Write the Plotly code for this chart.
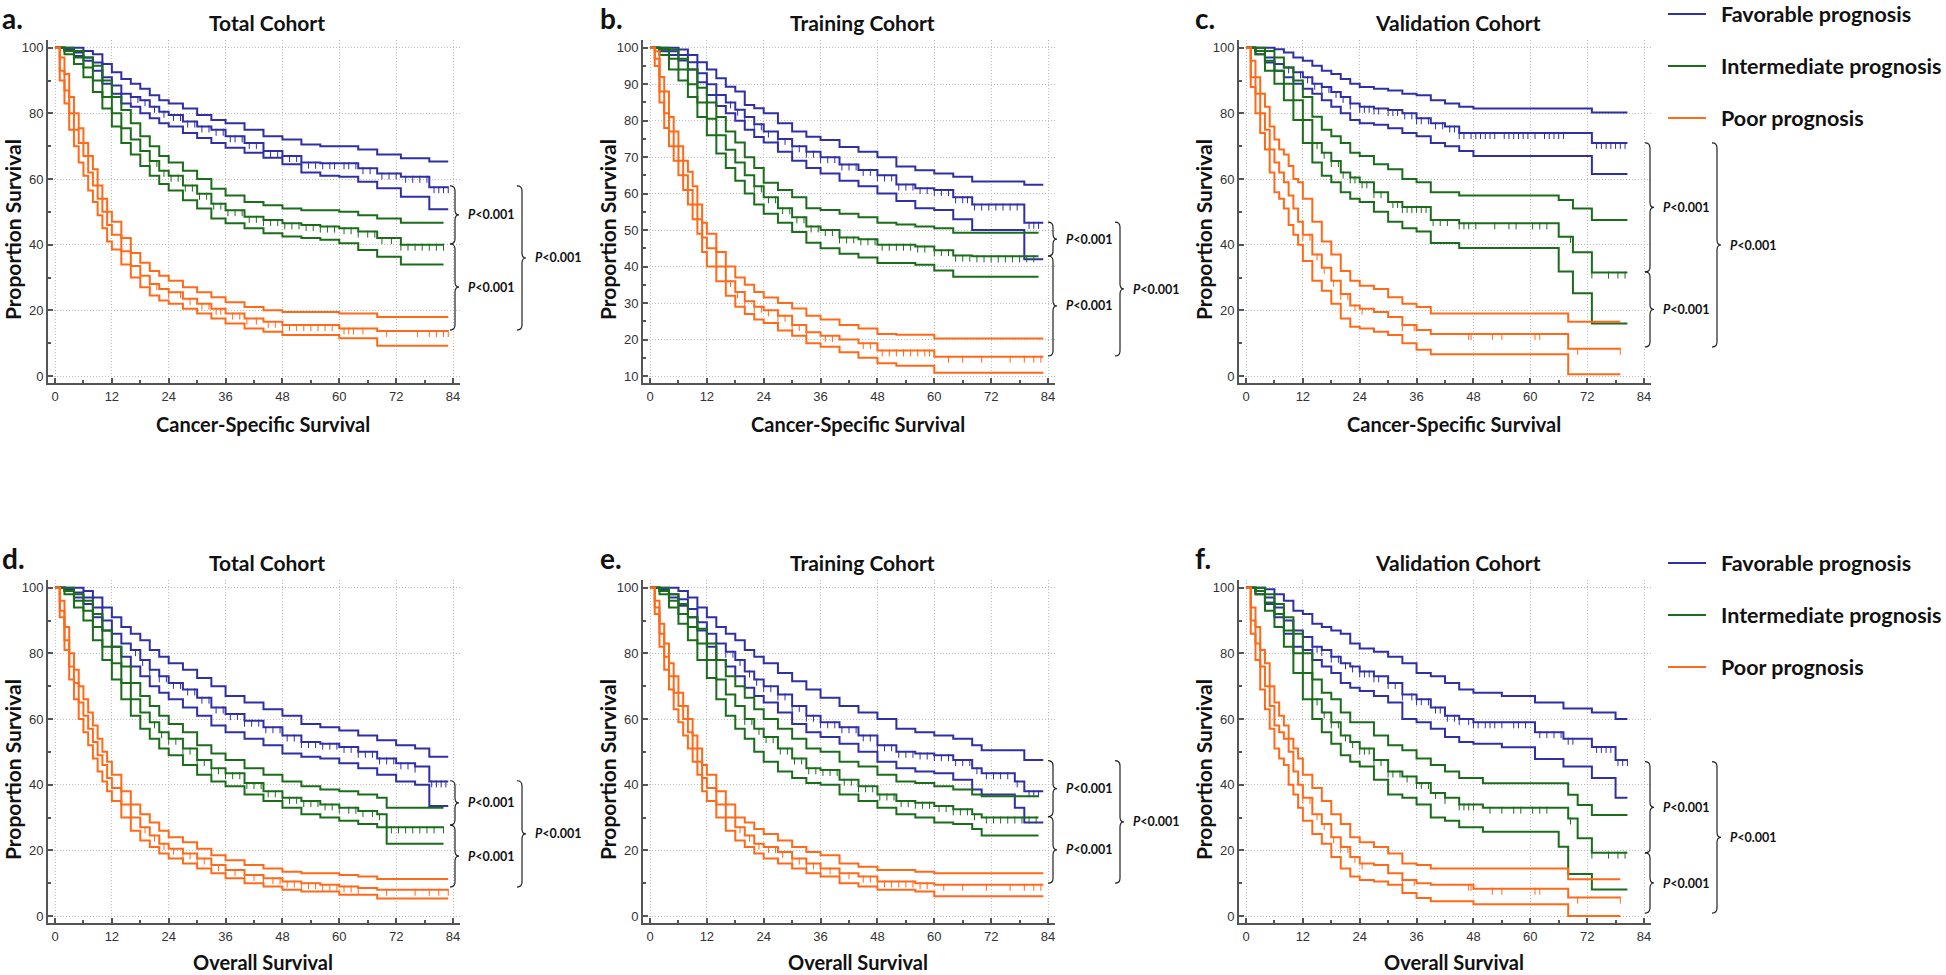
import plotly.graph_objects as go

# ================================================= Data ==============================================================
# Kaplan-Meier curves. Months on x, survival (%) on y.
# For each prognosis group: step times (t), estimate (est), 95% CI (lo / hi) and censoring times (cens).

# ---- a. Cancer-specific survival, total cohort
a_fav_t = [0, 2, 4, 6, 8, 10, 12, 14, 16, 18, 20, 22, 24, 27, 30, 33, 36, 40, 44, 48, 52, 56, 60, 64, 68, 73, 76, 79, 83]
a_fav_hi = [100, 100, 100, 99, 98, 95, 92.5, 90.5, 89, 87.5, 85.5, 84, 83, 81.5, 79.5, 78, 77, 75, 73, 72, 70.5, 70, 70, 69, 67.5, 66.3, 66.3, 65.3, 65.3]
a_fav_est = [100, 99.5, 98.5, 97, 95.5, 91, 88.5, 86, 85, 84, 82, 80.5, 79.5, 77.5, 76, 75, 73, 71, 68.5, 67, 65, 64.8, 64.8, 63.3, 61.7, 60.7, 60.7, 57.5, 57.5]
a_fav_lo = [100, 99, 97.5, 96, 93, 89, 86, 83, 82, 80, 78.5, 77, 76, 74, 72.5, 71, 69.5, 68, 66.5, 64.5, 62, 61, 60.7, 59.2, 57.2, 54.6, 54.6, 50.8, 50.8]
a_fav_cens = [16, 17.5, 19, 21, 23, 25, 26.5, 28, 29.5, 31, 32.5, 34, 35.5, 37, 38, 39.5, 41, 42.5, 44, 45.5, 47, 48, 49.5, 51, 52,
              53.5, 55, 56.5, 58, 59, 61, 62, 63.5, 65, 66.5, 69, 70.5, 72, 74, 75.5, 77, 78.5, 80, 81, 82, 83]

a_int_t = [0, 2, 4, 6, 8, 10, 12, 14, 16, 18, 20, 22, 24, 27, 30, 33, 36, 40, 44, 48, 52, 56, 60, 64, 68, 73, 76, 79, 82]
a_int_hi = [100, 100, 99, 97, 94.5, 90, 85, 81, 77, 73, 70, 67, 65, 62.5, 60, 57, 55, 53, 52, 51, 50.5, 50.5, 50, 49, 48, 46.7, 46.7, 46.7, 46.7]
a_int_est = [100, 99, 97, 94, 90, 85, 80, 75.5, 72, 68.5, 65.5, 62.5, 61, 58, 55.5, 52.5, 50.5, 48.5, 47.5, 46.5, 46, 45.5, 45, 44, 42, 40, 40, 40, 40]
a_int_lo = [100, 98, 95, 91, 86.5, 81.5, 76, 71, 67.5, 64, 61, 58.5, 56.5, 53.5, 51, 48, 46.5, 45, 43.5, 42.5, 42, 41.5, 40.4, 38.4, 36.3, 34, 34, 34, 34]
a_int_cens = [20, 21.5, 23, 24.5, 26, 27.5, 29, 30.5, 32, 33.5, 35, 36.5, 38, 39.5, 41, 42.5, 44, 45.5, 47, 48.5, 50, 51.5, 53, 54.5,
              56, 57.5, 59, 61, 62.5, 64, 66, 67.5, 69, 71, 73, 74.5, 76, 77.5, 79, 80.5, 82]

a_poor_t = [0, 1, 2, 3, 4, 5, 6, 7, 8, 9, 10, 11, 12, 14, 16, 18, 20, 22, 24, 27, 30, 33, 36, 40, 44, 48, 52, 56, 60, 64, 68, 73, 79, 83]
a_poor_hi = [100, 97, 92, 85, 80, 75.5, 71, 67, 63, 58, 54, 50, 47, 42, 37.5, 34.5, 32, 30.5, 29, 27, 25.5, 24, 22.5, 21, 20, 19.5, 19.5, 19.5, 19, 19, 18, 18, 18, 18]
a_poor_est = [100, 93, 87, 80, 75, 71, 67, 62, 58, 54, 50, 46, 43, 38, 33.5, 30.5, 28, 26.5, 25.5, 23.5, 22, 20.5, 19, 17.5, 16.5, 15.5, 15.5, 15.5, 14.5, 14.5, 13.7, 13.7, 13.7, 13.7]
a_poor_lo = [100, 90, 83, 75, 70, 65, 61, 56.5, 53, 49, 45, 41, 38.5, 34, 30, 27, 24.5, 23, 22, 20.5, 19, 17.5, 16, 14.5, 13.5, 12.5, 12.5, 12.5, 11.5, 11.5, 9.2, 9.2, 9.2, 9.2]
a_poor_cens = [20, 21.5, 24, 26.5, 28.5, 31, 32.5, 34, 35, 37.5, 39, 40.5, 42.5, 45, 46.5, 48, 49.5, 51, 52.5, 54, 55.5, 57, 58.5,
               61, 62, 63, 65, 70, 76.5, 79, 80.5, 82, 83]

# ---- b. Cancer-specific survival, training cohort
b_fav_t = [0, 2, 4, 6, 8, 10, 12, 14, 16, 18, 20, 22, 24, 27, 30, 33, 36, 40, 44, 48, 52, 56, 60, 64, 68, 72, 76, 79, 83]
b_fav_hi = [100, 100, 100, 99.5, 98, 96, 94, 91.6, 89.3, 88, 84.3, 83.4, 82, 79.3, 77, 75.6, 74.7, 72.8, 71.5, 70, 67.4, 66.4, 65.5, 64.6, 63.3, 63.3, 63.3, 62.4, 62.4]
b_fav_est = [100, 99.5, 99, 98, 96, 93, 90, 87, 85, 83, 81, 79, 77, 75, 73, 71.5, 70, 68, 66.5, 65, 62.5, 61.5, 61, 59, 57, 57, 57, 52, 52]
b_fav_lo = [100, 99, 98, 96.5, 94, 90.5, 87, 84, 82, 80, 77.5, 75.5, 74, 71.5, 69, 67, 65.5, 63.5, 62, 60, 58, 56, 55.5, 53, 50, 50, 50, 42, 42]
b_fav_cens = [17, 18.5, 20, 22, 23.5, 25, 27, 28.5, 30, 31.5, 33, 34.5, 36, 37.5, 39, 40.5, 42, 43.5, 45, 46.5, 48, 49.5, 51, 52.5,
              54, 55.5, 57, 58.5, 60, 61.5, 63, 64.5, 66, 67, 68.5, 70, 71.5, 73, 74.5, 76, 77.5, 80, 81, 82]

b_int_t = [0, 2, 4, 6, 8, 10, 12, 14, 16, 18, 20, 22, 24, 27, 30, 33, 36, 40, 44, 48, 52, 56, 60, 64, 68, 72, 76, 79, 82]
b_int_hi = [100, 100, 99.5, 97, 94, 89, 85, 81, 77, 74, 70, 67, 63, 61, 59, 56, 55.5, 54.5, 53.5, 52, 51.5, 51, 50.5, 49.3, 49.3, 49.3, 49.3, 49.3, 49.3]
b_int_est = [100, 99.5, 97, 94, 90, 85, 80.5, 76, 72, 68.5, 65, 62, 59, 56, 53.5, 51, 50, 48, 47.5, 46, 46, 45.5, 44.5, 43, 42.8, 42.8, 42.8, 42.8, 42.8]
b_int_lo = [100, 98, 94, 91, 86.5, 81, 76, 71, 67, 63.5, 60, 57, 54.5, 52, 49.5, 46.5, 45, 43.5, 42.5, 41, 41, 40.5, 38.9, 37.2, 37.2, 37.2, 37.2, 37.2, 37.2]
b_int_cens = [22, 23.5, 25, 26.5, 28, 29.5, 31, 32.5, 34, 35.5, 37, 38.5, 40, 41.5, 43, 44.5, 46, 47.5, 49, 50.5, 52, 53.5, 55, 56.5,
              58, 60, 61.5, 63, 64.5, 66, 67.5, 69, 70.5, 72, 73.5, 75, 76.5, 78, 79.5, 81]

b_poor_t = [0, 1, 2, 3, 4, 5, 6, 7, 8, 9, 10, 11, 12, 14, 16, 18, 20, 22, 24, 27, 30, 33, 36, 40, 44, 48, 52, 56, 60, 83]
b_poor_hi = [100, 99, 92, 88, 81, 77, 73, 69, 66, 62, 57, 52, 49, 44, 40, 37, 35, 33, 31.5, 30, 28.5, 26.5, 25.5, 24, 23, 21.5, 21.3, 21.3, 20.3, 20.3]
b_poor_est = [100, 97, 88, 82, 77, 73, 69, 65, 61, 57, 53, 48, 45, 40, 36, 33, 30.5, 29, 28, 26.5, 24, 22, 21, 20, 19, 17, 17, 17, 15.3, 15.3]
b_poor_lo = [100, 95, 85, 78, 73, 69, 65, 61, 57, 53, 49, 44, 40, 36, 32, 29, 27, 25.5, 24.5, 22.5, 21, 19, 18, 16.5, 15, 13.5, 12.8, 12.8, 10.9, 10.9]
b_poor_cens = [17, 18.5, 20, 22, 23.5, 25, 27, 28.5, 30, 31.5, 33, 37, 38.5, 45, 46.5, 49, 50.5, 52, 53.5, 55, 56.5, 58, 59,
               63, 66, 70, 76, 79, 81, 82.5]

# ---- c. Cancer-specific survival, validation cohort
c_fav_t = [0, 2, 4, 6, 8, 10, 12, 14, 16, 18, 20, 22, 24, 27, 30, 33, 36, 39, 42, 45, 48, 73, 80.5]
c_fav_hi = [100, 100, 100, 99.5, 98.5, 97, 96, 94.5, 93, 92, 90.5, 89, 88, 87.5, 87, 86, 85.5, 84, 83, 82, 81.5, 80.3, 80.3]
c_fav_est = [100, 99, 97, 95, 94, 92.5, 91, 89, 88, 86.5, 85, 83, 82, 81.5, 81, 80, 78.5, 77, 76, 74, 74, 71, 71]
c_fav_lo = [100, 98, 95.5, 93, 91, 89, 87.5, 86, 84, 82, 80, 78, 77, 76.5, 75.5, 74, 73, 71, 70, 68.5, 67, 61.5, 61.5]
c_fav_cens = [4, 9, 11.5, 13, 14.5, 16, 17.5, 19, 20.5, 22, 24, 25, 26, 27, 28, 30, 31, 32, 33.5, 35, 36, 37, 38.5, 40, 41.5, 43,
              44, 45, 46, 47.5, 48.5, 49.5, 50.5, 51.5, 52.5, 54.5, 55.5, 56.5, 57.5, 58.5, 59.5, 61, 63, 64, 65, 66, 67,
              74, 75, 76, 77, 78, 79, 80]

c_int_t = [0, 2, 4, 6, 8, 10, 12, 14, 16, 18, 20, 22, 24, 27, 30, 33, 36, 39, 45, 66, 69, 73, 80.5]
c_int_hi = [100, 100, 99, 97, 94, 90, 85, 79, 75, 73, 71, 68, 67, 64.5, 63, 60, 59, 56, 55, 53.6, 51, 47.5, 47.5]
c_int_est = [100, 99, 96, 93, 89, 84, 78, 71, 68, 65.5, 62, 60.5, 59, 56, 53, 51.5, 51.5, 47.5, 46.5, 42.4, 37.7, 31.5, 31.5]
c_int_lo = [100, 98, 93, 89, 84, 78, 71, 65, 61, 59, 56, 54, 53, 50, 47, 45, 44, 40.5, 39, 31.8, 25.2, 16, 16]
c_int_cens = [14, 15, 16.5, 18, 19.5, 20.5, 22, 23, 24.5, 25.5, 27, 28.5, 31, 32, 33, 34, 35, 36, 37, 38, 39.5, 41, 42.5, 45,
              46, 47, 48.5, 52.5, 55.5, 57, 60.5, 62, 63.5, 68.5, 73, 76.5, 78.5, 80]

c_poor_t = [0, 1, 2, 3, 4, 5, 6, 7, 8, 9, 10, 11, 12, 14, 16, 18, 20, 22, 24, 27, 30, 33, 36, 39, 68, 79]
c_poor_hi = [100, 96, 91, 86, 82, 76, 72, 69, 67.5, 64, 60, 59, 54, 47, 41, 37, 32, 29, 27.5, 26.5, 24, 22, 21, 19, 16.5, 16.5]
c_poor_est = [100, 91, 86, 80, 75, 69, 65, 62, 59, 55, 51, 47, 43, 37, 33, 29, 25, 21.5, 20.5, 19.5, 18, 15.5, 14, 12.8, 8.3, 8.3]
c_poor_lo = [100, 88, 80, 74, 69, 62, 56, 54, 51, 46, 43, 40, 35, 29, 26, 22, 17.5, 15, 14.5, 13.5, 12.5, 10, 8, 6.6, 0.5, 0.5]
c_poor_cens = [12, 13.5, 15, 16.5, 18.5, 20, 21.5, 23, 24.5, 33, 35.5, 47, 47.5, 52, 54, 61, 62, 70, 79]

# ---- d. Overall survival, total cohort
d_fav_t = [0, 2, 4, 6, 8, 10, 12, 14, 16, 18, 20, 22, 24, 27, 30, 33, 36, 40, 44, 48, 52, 56, 60, 64, 68, 72, 76, 79, 83]
d_fav_hi = [100, 100, 100, 99, 97, 94, 91, 88, 86, 84, 81, 79, 77, 75, 72.5, 70, 67, 65, 63, 61, 58.5, 57.5, 56.5, 55, 53.5, 52, 51, 48.5, 48.5]
d_fav_est = [100, 99.5, 98.5, 97, 94, 90, 86, 83, 81, 78, 75, 73, 71, 69, 66.5, 63.5, 61.5, 59.5, 57.5, 55, 53, 52.5, 51.5, 50, 48, 46.5, 45.5, 41, 41]
d_fav_lo = [100, 99, 97, 95, 91, 87, 82, 79, 76, 73, 70, 68, 66, 63.5, 61, 58, 56, 54, 52, 49.5, 48.5, 48, 46.5, 45, 43, 41, 40, 33.5, 33.5]
d_fav_cens = [17, 18.5, 20, 22, 23.5, 25, 26.5, 28, 29.5, 31, 32.5, 34, 35.5, 37, 38.5, 40, 41.5, 43, 44.5, 46, 47.5, 49, 50.5,
              52, 53.5, 55, 56.5, 58, 59.5, 61, 62.5, 64, 65.5, 67, 68.5, 70, 71.5, 73, 74.5, 76, 79.5, 80.5, 81.5, 82.5]

d_int_t = [0, 2, 4, 6, 8, 10, 12, 14, 16, 18, 20, 22, 24, 27, 30, 33, 36, 40, 44, 48, 52, 56, 60, 64, 68, 70, 76, 79, 82]
d_int_hi = [100, 100, 98, 96, 92, 87, 82, 76, 71, 67, 64, 61, 58.5, 56, 52, 49.5, 47.5, 45, 43, 41, 39.5, 38.5, 38, 37, 36, 33, 33, 33, 33]
d_int_est = [100, 99, 96, 93, 88, 82, 77, 71, 66, 62, 59, 56, 54, 51, 47.5, 45, 43.5, 40.5, 38, 36, 35, 34, 33, 32, 31, 27, 27, 27, 27]
d_int_lo = [100, 98, 94, 90, 84, 78, 72, 66, 61, 57, 54, 51, 49, 46, 43, 41, 39.5, 37, 35, 33, 31, 30, 29, 28, 27, 22, 22, 22, 22]
d_int_cens = [21, 22.5, 24, 25.5, 27, 28.5, 30, 31.5, 33, 34.5, 36, 37.5, 39, 40.5, 42, 43.5, 45, 46.5, 48, 49.5, 51, 52.5, 54,
              55.5, 57, 58.5, 60, 62, 63.5, 65, 67, 68.5, 71, 72.5, 74, 75.5, 77, 78.5, 80, 82]

d_poor_t = [0, 1, 2, 3, 4, 5, 6, 7, 8, 9, 10, 11, 12, 14, 16, 18, 20, 22, 24, 27, 30, 33, 36, 40, 44, 48, 52, 56, 60, 64, 68, 83]
d_poor_hi = [100, 96, 88, 80, 75, 70, 66, 62, 58, 54, 50, 47, 43, 38, 34, 31, 28.5, 26, 24, 22.5, 20.5, 18.5, 17, 15.5, 14.5, 13.5, 13, 13, 12.5, 12, 11.3, 11.3]
d_poor_est = [100, 93, 84, 76, 71, 65, 61, 57, 53, 49, 46, 42, 39, 34, 30, 27, 24.5, 22, 20.5, 19, 17.5, 15.5, 14, 12.5, 11.5, 10.5, 10, 9.5, 9, 8.5, 8, 8]
d_poor_lo = [100, 91, 81, 72, 66, 60, 56, 52, 48, 44, 41, 38, 35, 30, 26, 23, 21, 19, 17.5, 16, 14.5, 13, 11.5, 10, 9, 8, 7.5, 7.5, 6.5, 6.5, 5.3, 5.3]
d_poor_cens = [19, 21, 23, 25, 27, 28.5, 30, 31.5, 33, 34.5, 36, 38, 40, 42, 44, 46, 47.5, 49, 50.5, 52, 53.5, 55, 56.5, 58,
               59.5, 61, 62.5, 64, 70, 76, 79, 81, 83]

# ---- e. Overall survival, training cohort
e_fav_t = [0, 2, 4, 6, 8, 10, 12, 14, 16, 18, 20, 22, 24, 27, 30, 33, 36, 40, 44, 48, 52, 56, 60, 64, 68, 70, 77, 79, 83]
e_fav_hi = [100, 100, 100, 99, 97, 94, 91, 88, 86, 84, 81, 79, 77, 74, 71.5, 69, 66.5, 64, 62, 60, 57, 56, 55, 54, 52, 50.5, 50.5, 47.5, 47.5]
e_fav_est = [100, 99.5, 98, 96.5, 93.5, 89.5, 86, 83, 80.5, 78, 74.5, 72, 70, 67.5, 64, 61, 59, 57.5, 55, 52, 50, 49.5, 49, 47.5, 45, 43.5, 41, 38, 38]
e_fav_lo = [100, 99, 97, 94.5, 91, 87, 82, 78, 76, 73, 69.5, 67, 65, 62, 58.5, 56, 54.5, 52.5, 50, 47, 45, 44, 43.5, 41.5, 38.5, 37, 33, 28.5, 28.5]
e_fav_cens = [16, 17.5, 19, 21, 22.5, 24, 25.5, 27, 28.5, 30, 31.5, 33, 34.5, 36, 37.5, 39, 40.5, 42, 43.5, 45, 46.5, 48, 49.5,
              51, 52.5, 54, 55.5, 57, 58.5, 60, 61.5, 63, 64.5, 66, 67.5, 69, 71, 72.5, 74, 75.5, 77.5, 80, 81, 82]

e_int_t = [0, 2, 4, 6, 8, 10, 12, 14, 16, 18, 20, 22, 24, 27, 30, 33, 36, 40, 44, 48, 52, 56, 60, 64, 68, 70, 82]
e_int_hi = [100, 100, 98, 95, 91, 87.5, 83, 78, 73, 70, 66.5, 63, 60, 57, 54, 51, 50, 47, 45.5, 43, 41, 40.5, 39.5, 38.5, 37, 36.5, 36.5]
e_int_est = [100, 99, 96, 92, 88, 83, 78, 72, 67.5, 64, 60, 57, 54.5, 51, 48, 45, 44.5, 41.5, 39.5, 37, 35, 34.5, 33.5, 32.5, 31, 30, 30]
e_int_lo = [100, 98, 94, 89, 84, 78, 72.5, 66, 61, 57, 54, 50, 47, 44, 42, 40.5, 40, 37, 35, 33, 31, 30, 28.5, 28, 26.5, 24.5, 24.5]
e_int_cens = [20, 21.5, 23, 24.5, 26, 27.5, 29, 30.5, 32, 33.5, 35, 36.5, 38, 39.5, 41, 42.5, 44, 45.5, 47, 48.5, 50, 51.5, 53,
              54.5, 56, 57.5, 59, 61, 62.5, 64, 65.5, 67, 68.5, 71, 72.5, 74, 75.5, 77, 78.5, 80, 81.5]

e_poor_t = [0, 1, 2, 3, 4, 5, 6, 7, 8, 9, 10, 11, 12, 14, 16, 18, 20, 22, 24, 27, 30, 33, 36, 40, 44, 48, 52, 56, 60, 83]
e_poor_hi = [100, 96, 89, 83, 77, 73, 68, 64, 60, 55, 51, 46, 43, 38, 34, 30, 28.5, 26.5, 25, 23, 21, 19.5, 18.5, 16, 15, 14, 14, 13.5, 13, 13]
e_poor_est = [100, 94, 86, 79, 73, 68, 64, 60, 56, 51, 47, 42, 39, 34, 30, 27, 24.5, 22, 21, 19.5, 17.5, 16, 14.5, 13, 12, 10.5, 10.5, 10, 9.5, 9.5]
e_poor_lo = [100, 92, 82, 75, 69, 63, 59, 55, 51, 47, 43, 38, 35, 30, 26, 23, 21, 19, 17.5, 16, 14.5, 13, 12, 10, 9, 8, 8, 7.5, 6, 6]
e_poor_cens = [19, 21, 23, 25, 26.5, 28, 30, 31.5, 33, 34.5, 36, 38, 40, 42, 45, 46.5, 48, 49.5, 51, 52.5, 54, 55.5, 57, 58.5,
               62, 66, 71, 76, 79, 81, 82.5]

# ---- f. Overall survival, validation cohort
f_fav_t = [0, 2, 4, 6, 8, 10, 12, 14, 16, 18, 20, 22, 24, 27, 30, 33, 36, 39, 42, 45, 48, 54, 61, 67, 73, 78, 80.5]
f_fav_hi = [100, 100, 99.5, 98, 96, 93, 92, 89, 88, 87, 86, 83, 81.5, 80.5, 79, 77, 74, 73, 71, 69, 68, 67, 65, 63.2, 62, 60, 60]
f_fav_est = [100, 99, 97, 94, 90, 87, 85, 82, 81, 79, 77, 76, 74.5, 73, 71, 67.5, 66, 63.5, 61, 60, 59, 59, 56, 54, 51.5, 47.5, 47.5]
f_fav_lo = [100, 98, 95, 91, 86, 82, 81, 78, 76, 74, 71, 69.5, 68.5, 67, 65, 60, 59, 57, 54.5, 53, 52.5, 51.4, 47.8, 45.5, 42, 36, 36]
f_fav_cens = [12, 14, 15, 16, 18, 19.5, 21, 22.5, 24, 25, 26, 27, 28, 30, 31.5, 33, 35, 36, 37, 38.5, 40, 41, 42.5, 44, 45, 47,
              48, 49, 50.5, 51.5, 52.5, 54, 56.5, 57.5, 59, 62, 63.5, 65, 66.5, 68, 69, 74, 75, 76, 77, 78.5, 79.5, 80.5]

f_int_t = [0, 2, 4, 6, 8, 10, 12, 14, 16, 18, 20, 22, 24, 27, 30, 33, 36, 39, 42, 45, 50, 66, 68, 70, 73, 80.5]
f_int_hi = [100, 100, 98, 95, 91, 86, 80, 72, 68, 66, 62, 59, 59, 55, 52, 50.5, 48, 46, 44, 42, 40.4, 40.4, 36.9, 33.8, 30.8, 30.8]
f_int_est = [100, 99, 95.5, 92, 87, 80, 74, 66, 62, 59, 55, 53, 51, 47.5, 44, 42.5, 40.5, 37.5, 36, 34, 33, 33, 29.7, 23.7, 19.3, 19.3]
f_int_lo = [100, 98, 93, 88, 82, 74, 66, 60, 56, 52.5, 49, 47, 45.5, 41.5, 37, 36, 34, 30, 29, 27, 25.7, 21.1, 12.8, 12.8, 8.1, 8.1]
f_int_cens = [14, 15, 16.5, 18, 19.5, 21, 22.5, 24, 25, 26, 27, 28.5, 30, 31, 32.5, 34, 36, 37, 38.5, 40, 42, 45, 46, 47, 48,
              51.5, 54, 56.5, 58, 60.5, 62, 63.5, 68.5, 73, 76.5, 78.5, 80]

f_poor_t = [0, 1, 2, 3, 4, 5, 6, 7, 8, 9, 10, 11, 12, 14, 16, 18, 20, 22, 24, 27, 30, 33, 36, 39, 48, 68, 79]
f_poor_hi = [100, 94, 88, 81, 77, 70, 65, 61, 58, 54, 51, 48, 43, 39, 35, 31, 28, 24, 22.5, 21, 19, 16, 15.5, 14.5, 14.5, 11.2, 11.2]
f_poor_est = [100, 90, 83, 76, 70, 64, 58, 56, 54, 50, 44, 40, 36, 31, 28, 24, 21, 18, 16, 15.5, 13, 11, 10, 9.5, 8.3, 5.6, 5.6]
f_poor_lo = [100, 86, 78, 69, 63, 57, 51, 48, 46, 40, 37, 33, 29, 25, 22, 18, 14.5, 12, 11, 10.5, 9.5, 7, 5.5, 4.5, 3.6, 0, 0]
f_poor_cens = [12, 13.5, 15, 16.5, 18.5, 20, 21.5, 23, 24.5, 33, 35.5, 47, 47.5, 52, 54, 61, 62, 70, 79]

# Log-rank brackets: (top, junction, bottom) in % for each panel
brackets = {'a': (57.9, 40.2, 14.0), 'b': (52.2, 42.9, 15.5), 'c': (71.0, 31.7, 8.8),
            'd': (41.2, 27.7, 8.8), 'e': (47.3, 30.3, 10.0), 'f': (47.0, 19.2, 0.9)}
p_label = '<b><i>P</i>&lt;0.001</b>'

group_names = ['Favorable prognosis', 'Intermediate prognosis', 'Poor prognosis']
x_ticks = [0, 12, 24, 36, 48, 60, 72, 84]

# ================================================= Style =============================================================

W, H = 1946, 975
BLUE, GREEN, ORANGE = '#2f2fa6', '#1b6d1b', '#ff6a1a'
TITLE_FONT = 'Lato'
TICK_FONT = 'Liberation Sans, Arial'
COL_LEFT = [48, 643, 1239]      # px of each column's y axis line
ROW_TOP = [40, 580]             # px of the top of each row's plot area
PLOT_W, PLOT_H = 412, 343
LETTER_X = [0, 598, 1193]
BRACE_X = [455, 1053, 1650]     # inner bracket spine
OUTER_X = [522, 1120, 1717]     # outer bracket spine
XTITLE_Y = [424, 962]


def step_at(ts, vs, c):
    v = vs[0]
    for t, s in zip(ts, vs):
        if t <= c:
            v = s
    return v


def brace_path(xpx, y_top, y_bot, ppu):
    # right-pointing curly bracket, x in paper units, y in data units
    xs, w, cx, r = xpx / W, 4 / W, 5 / W, 5 / ppu
    ym = (y_top + y_bot) / 2
    return (f'M {xs - cx},{y_top} Q {xs},{y_top} {xs},{y_top - r} L {xs},{ym + r} '
            f'Q {xs},{ym} {xs + w},{ym} Q {xs},{ym} {xs},{ym - r} '
            f'L {xs},{y_bot + r} Q {xs},{y_bot} {xs - cx},{y_bot}')


panels = [
    dict(key='a', title='Total Cohort', xtitle='Cancer-Specific Survival', ymin=0,
         groups=[(a_fav_t, a_fav_est, a_fav_lo, a_fav_hi, a_fav_cens, BLUE),
                 (a_int_t, a_int_est, a_int_lo, a_int_hi, a_int_cens, GREEN),
                 (a_poor_t, a_poor_est, a_poor_lo, a_poor_hi, a_poor_cens, ORANGE)]),
    dict(key='b', title='Training Cohort', xtitle='Cancer-Specific Survival', ymin=10,
         groups=[(b_fav_t, b_fav_est, b_fav_lo, b_fav_hi, b_fav_cens, BLUE),
                 (b_int_t, b_int_est, b_int_lo, b_int_hi, b_int_cens, GREEN),
                 (b_poor_t, b_poor_est, b_poor_lo, b_poor_hi, b_poor_cens, ORANGE)]),
    dict(key='c', title='Validation Cohort', xtitle='Cancer-Specific Survival', ymin=0,
         groups=[(c_fav_t, c_fav_est, c_fav_lo, c_fav_hi, c_fav_cens, BLUE),
                 (c_int_t, c_int_est, c_int_lo, c_int_hi, c_int_cens, GREEN),
                 (c_poor_t, c_poor_est, c_poor_lo, c_poor_hi, c_poor_cens, ORANGE)]),
    dict(key='d', title='Total Cohort', xtitle='Overall Survival', ymin=0,
         groups=[(d_fav_t, d_fav_est, d_fav_lo, d_fav_hi, d_fav_cens, BLUE),
                 (d_int_t, d_int_est, d_int_lo, d_int_hi, d_int_cens, GREEN),
                 (d_poor_t, d_poor_est, d_poor_lo, d_poor_hi, d_poor_cens, ORANGE)]),
    dict(key='e', title='Training Cohort', xtitle='Overall Survival', ymin=0,
         groups=[(e_fav_t, e_fav_est, e_fav_lo, e_fav_hi, e_fav_cens, BLUE),
                 (e_int_t, e_int_est, e_int_lo, e_int_hi, e_int_cens, GREEN),
                 (e_poor_t, e_poor_est, e_poor_lo, e_poor_hi, e_poor_cens, ORANGE)]),
    dict(key='f', title='Validation Cohort', xtitle='Overall Survival', ymin=0,
         groups=[(f_fav_t, f_fav_est, f_fav_lo, f_fav_hi, f_fav_cens, BLUE),
                 (f_int_t, f_int_est, f_int_lo, f_int_hi, f_int_cens, GREEN),
                 (f_poor_t, f_poor_est, f_poor_lo, f_poor_hi, f_poor_cens, ORANGE)]),
]

# ================================================= Figure ============================================================

fig = go.Figure()
shapes, annotations, axes = [], [], {}


def ann(x, y, text, size, **kw):
    annotations.append(dict(x=x / W, y=1 - y / H, xref='paper', yref='paper', text=text, showarrow=False,
                            font=dict(family=kw.pop('family', TITLE_FONT), size=size, color='#111'), **kw))


for i, p in enumerate(panels):
    n = '' if i == 0 else str(i + 1)
    row, col = divmod(i, 3)
    left, top = COL_LEFT[col], ROW_TOP[row]
    ymin = p['ymin']
    ppu_x = (PLOT_W - 14) / 84
    ppu_y = (PLOT_H - 14.7) / (100 - ymin)

    for ts, est, lo, hi, cens, color in p['groups']:
        assert len(ts) == len(est) == len(lo) == len(hi)
        for vals in (lo, hi, est):
            fig.add_trace(go.Scatter(x=ts, y=vals, mode='lines', line=dict(color=color, width=2, shape='hv'),
                                     xaxis='x' + n, yaxis='y' + n, showlegend=False, hoverinfo='skip'))
        cy = [step_at(ts, est, c) - 2.5 / ppu_y for c in cens]
        fig.add_trace(go.Scatter(x=cens, y=cy, mode='markers', xaxis='x' + n, yaxis='y' + n, showlegend=False,
                                 marker=dict(symbol='line-ns', size=5, line=dict(color=color, width=1)),
                                 hoverinfo='skip'))

    common = dict(showgrid=True, gridcolor='#bdbdbd', griddash='1px,2px', gridwidth=1, zeroline=False,
                  showline=True, linecolor='#555', linewidth=2, ticks='inside', ticklen=5, tickwidth=2,
                  tickcolor='#555', tickfont=dict(family=TICK_FONT, size=13, color='#333'))
    axes['xaxis' + n] = dict(common, domain=[left / W, (left + PLOT_W) / W], anchor='y' + n,
                             range=[-7 / ppu_x, 84 + 7 / ppu_x], tickvals=x_ticks,
                             minor=dict(dtick=6, tick0=0, ticks='inside', ticklen=3, tickcolor='#555', showgrid=False))
    ydt = 10 if ymin else 20
    axes['yaxis' + n] = dict(common, domain=[1 - (top + PLOT_H) / H, 1 - top / H], anchor='x' + n,
                             range=[ymin - 7 / ppu_y, 100 + 7.7 / ppu_y], dtick=ydt, tick0=0,
                             minor=dict(dtick=ydt / 2, tick0=0, ticks='inside', ticklen=3, tickcolor='#555',
                                        showgrid=False))

    # texts
    ann(LETTER_X[col], top - 22, f'<b>{p["key"]}.</b>', 28, xanchor='left', yanchor='middle')
    ann(left + 219, top - 18, f'<b>{p["title"]}</b>', 21, xanchor='center', yanchor='middle')
    ann(left + 215, XTITLE_Y[row], f'<b>{p["xtitle"]}</b>', 20, xanchor='center', yanchor='middle')
    ann(left - 36, top + 190, '<b>Proportion Survival</b>', 21, xanchor='center', yanchor='middle', textangle=-90)

    # log-rank brackets
    y_top, y_mid, y_bot = brackets[p['key']]
    for xpx, a, b in ((BRACE_X[col], y_top, y_mid), (BRACE_X[col], y_mid, y_bot), (OUTER_X[col], y_top, y_bot)):
        shapes.append(dict(type='path', path=brace_path(xpx, a, b, ppu_y), xref='paper', yref='y' + n,
                           line=dict(color='#222', width=1.2)))
        ypx = top + 7.7 + (100 - (a + b) / 2) * ppu_y
        ann(xpx + 11, ypx, p_label, 12.5, xanchor='left', yanchor='middle')

# legends (one per row)
for base in (14, 563):
    for k, (name, color) in enumerate(zip(group_names, [BLUE, GREEN, ORANGE])):
        y = base + 52 * k
        shapes.append(dict(type='line', xref='paper', yref='paper', x0=1668 / W, x1=1706 / W,
                           y0=1 - y / H, y1=1 - y / H, line=dict(color=color, width=2)))
        ann(1719, y, f'<b>{name}</b>', 21.5, xanchor='left', yanchor='middle')

fig.update_layout(**axes)
fig.update_layout(width=W, height=H, margin=dict(l=0, r=0, t=0, b=0), autosize=False,
                  template='none', plot_bgcolor='white', paper_bgcolor='white',
                  shapes=shapes, annotations=annotations, showlegend=False)

fig.write_html("out.html", config={'displayModeBar': False},
               post_script="document.body.style.margin='0';")
